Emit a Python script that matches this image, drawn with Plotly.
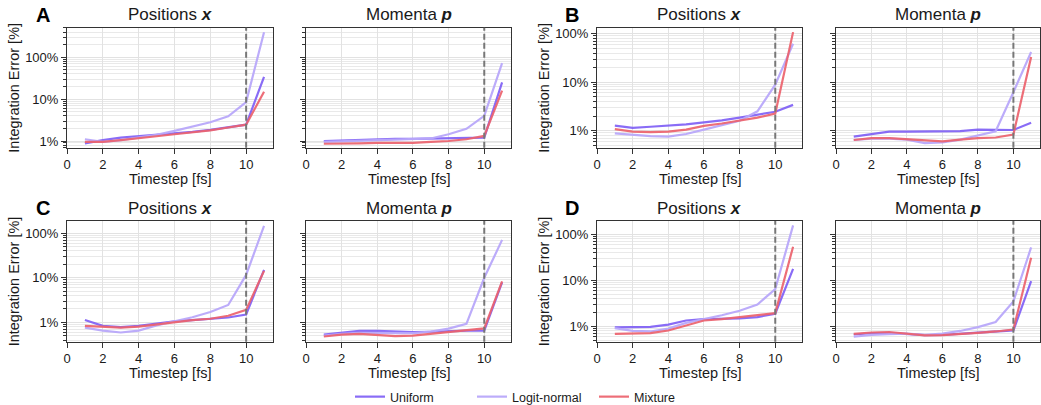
import plotly.graph_objects as go

W, H = 1041, 405

timesteps = [1, 2, 3, 4, 5, 6, 7, 8, 9, 10, 11]
cutoff_timestep = 10

series_names = ["Uniform", "Logit-normal", "Mixture"]
series_colors = ["rgba(124,92,245,0.9)", "rgba(184,168,250,0.95)", "rgba(236,98,108,0.92)"]

# Panel A
A_pos_uniform = [0.88, 1.05, 1.2, 1.3, 1.4, 1.5, 1.65, 1.85, 2.1, 2.45, 34]
A_pos_logit = [1.1, 0.95, 1.05, 1.2, 1.4, 1.75, 2.2, 2.8, 3.9, 8.5, 395]
A_pos_mixture = [0.95, 0.95, 1.05, 1.15, 1.3, 1.45, 1.6, 1.8, 2.1, 2.45, 15]
A_mom_uniform = [1.0, 1.03, 1.08, 1.1, 1.12, 1.12, 1.13, 1.15, 1.18, 1.2, 25]
A_mom_logit = [0.95, 0.97, 1.0, 1.05, 1.08, 1.1, 1.15, 1.45, 1.95, 4.0, 72]
A_mom_mixture = [0.86, 0.86, 0.88, 0.9, 0.9, 0.9, 0.95, 1.0, 1.1, 1.32, 16]

# Panel B
B_pos_uniform = [1.27, 1.14, 1.2, 1.27, 1.35, 1.48, 1.62, 1.85, 2.1, 2.45, 3.4]
B_pos_logit = [0.88, 0.81, 0.77, 0.75, 0.85, 1.05, 1.3, 1.6, 2.5, 8.9, 62]
B_pos_mixture = [1.07, 0.95, 0.93, 0.95, 1.05, 1.25, 1.4, 1.6, 1.85, 2.25, 108]
B_mom_uniform = [0.75, 0.85, 0.95, 0.95, 0.95, 0.96, 0.98, 1.05, 1.03, 1.03, 1.46]
B_mom_logit = [0.64, 0.68, 0.68, 0.65, 0.55, 0.57, 0.65, 0.8, 0.97, 6.2, 42]
B_mom_mixture = [0.64, 0.7, 0.7, 0.67, 0.64, 0.6, 0.65, 0.7, 0.72, 0.83, 33]

# Panel C
C_pos_uniform = [1.13, 0.83, 0.78, 0.83, 0.93, 1.05, 1.12, 1.2, 1.28, 1.5, 15]
C_pos_logit = [0.76, 0.65, 0.59, 0.65, 0.85, 1.05, 1.3, 1.7, 2.45, 11.6, 146]
C_pos_mixture = [0.83, 0.78, 0.76, 0.8, 0.9, 1.02, 1.12, 1.2, 1.4, 1.9, 14.3]
C_mom_uniform = [0.53, 0.58, 0.64, 0.64, 0.61, 0.6, 0.61, 0.64, 0.65, 0.65, 7.9]
C_mom_logit = [0.5, 0.55, 0.58, 0.58, 0.56, 0.57, 0.62, 0.72, 0.92, 10, 71]
C_mom_mixture = [0.48, 0.53, 0.55, 0.52, 0.49, 0.5, 0.55, 0.6, 0.65, 0.73, 8.3]

# Panel D
D_pos_uniform = [0.96, 0.98, 0.98, 1.1, 1.35, 1.45, 1.45, 1.5, 1.6, 1.9, 17.8]
D_pos_logit = [0.92, 0.8, 0.78, 0.9, 1.2, 1.45, 1.75, 2.2, 3.0, 6.5, 157]
D_pos_mixture = [0.69, 0.7, 0.72, 0.82, 1.05, 1.35, 1.45, 1.6, 1.75, 1.95, 54]
D_mom_uniform = [0.67, 0.72, 0.73, 0.7, 0.65, 0.66, 0.7, 0.73, 0.76, 0.82, 9.7]
D_mom_logit = [0.6, 0.66, 0.68, 0.7, 0.66, 0.7, 0.8, 0.97, 1.25, 3.5, 52]
D_mom_mixture = [0.69, 0.74, 0.76, 0.7, 0.64, 0.65, 0.7, 0.73, 0.78, 0.86, 31]

panel_letters = ["A", "B", "C", "D"]
panel_titles = ["Positions <b><i>x</i></b>", "Momenta <b><i>p</i></b>"]
x_ticks = [0, 2, 4, 6, 8, 10]
y_major = [1, 10, 100]
y_major_text = ["1%", "10%", "100%"]
x_title = "Timestep [fs]"
y_title = "Integration Error [%]"

panel_data = [
    [[A_pos_uniform, A_pos_logit, A_pos_mixture], [A_mom_uniform, A_mom_logit, A_mom_mixture]],
    [[B_pos_uniform, B_pos_logit, B_pos_mixture], [B_mom_uniform, B_mom_logit, B_mom_mixture]],
    [[C_pos_uniform, C_pos_logit, C_pos_mixture], [C_mom_uniform, C_mom_logit, C_mom_mixture]],
    [[D_pos_uniform, D_pos_logit, D_pos_mixture], [D_mom_uniform, D_mom_logit, D_mom_mixture]],
]

# layout geometry (pixels)
col_x = [[67, 273], [306, 511], [597, 802], [836, 1040]]
row_y = [[27.7, 147.7], [221, 341.7]]
y_ranges = [[-0.16, 2.705], [-0.353, 2.125], [-0.436, 2.276], [-0.33, 2.29]]
letter_x = [43, 572]

minor_vals = [k * d for d in [0.1, 1, 10, 100] for k in range(2, 10)]

FONT = "Liberation Sans, Arial, Helvetica, sans-serif"
TXT = "#1a1a1a"

def px_x(p):
    return p / W

def px_y(p):
    return 1 - p / H

fig = go.Figure()
annotations = []
shapes = []

ax_i = 0
for pi in range(4):
    r = pi // 2
    c0 = (pi % 2) * 2
    y0, y1 = row_y[r]
    for j in range(2):
        ax_i += 1
        xa = "x" if ax_i == 1 else f"x{ax_i}"
        ya = "y" if ax_i == 1 else f"y{ax_i}"
        xl = "xaxis" if ax_i == 1 else f"xaxis{ax_i}"
        yl = "yaxis" if ax_i == 1 else f"yaxis{ax_i}"
        cx0, cx1 = col_x[c0 + j]
        fig.update_layout(**{
            xl: dict(
                domain=[px_x(cx0), px_x(cx1)], anchor=ya, range=[0, 11.5],
                automargin=False,
                tickvals=x_ticks, ticks="outside", ticklen=5, tickcolor="#333",
                showline=True, mirror=True, linecolor="#333", linewidth=1,
                showgrid=True, gridcolor="#e2e2e2", gridwidth=1.2, zeroline=False,
                tickfont=dict(family=FONT, size=13, color=TXT),
            ),
            yl: dict(
                domain=[px_y(y1), px_y(y0)], anchor=xa, type="log",
                range=y_ranges[pi], automargin=False,
                tickvals=y_major, ticktext=y_major_text if j == 0 else [""] * 3,
                ticks="outside", ticklen=5, tickcolor="#333",
                showline=True, mirror=True, linecolor="#333", linewidth=1,
                showgrid=True, gridcolor="#e2e2e2", gridwidth=1.2, zeroline=False,
                tickfont=dict(family=FONT, size=13, color=TXT),
                minor=dict(tickvals=minor_vals, ticks="outside", ticklen=3,
                           tickcolor="#333", showgrid=True, gridcolor="#e9e9e9",
                           gridwidth=1),
            ),
        })
        for si, name in enumerate(series_names):
            fig.add_trace(go.Scatter(
                x=timesteps, y=panel_data[pi][j][si], mode="lines", name=name,
                line=dict(color=series_colors[si], width=2.2),
                xaxis=xa, yaxis=ya, legendgroup=name,
                showlegend=(ax_i == 1),
            ))
        shapes.append(dict(
            type="line", xref=xa, yref=f"{ya} domain",
            x0=cutoff_timestep, x1=cutoff_timestep, y0=0, y1=1,
            line=dict(color="#777", width=2, dash="6px,3px"),
        ))
        # panel title
        annotations.append(dict(
            text=panel_titles[j], x=px_x((cx0 + cx1) / 2), y=px_y(y0 - 13),
            xref="paper", yref="paper", showarrow=False,
            font=dict(family=FONT, size=17, color=TXT),
            xanchor="center", yanchor="middle",
        ))
        # x-axis title
        annotations.append(dict(
            text=x_title, x=px_x((cx0 + cx1) / 2), y=px_y(y1 + 31),
            xref="paper", yref="paper", showarrow=False,
            font=dict(family=FONT, size=14.5, color=TXT),
            xanchor="center", yanchor="middle",
        ))
    # panel letter
    annotations.append(dict(
        text=f"<b>{panel_letters[pi]}</b>", x=px_x(letter_x[pi % 2]), y=px_y(y0 - 13),
        xref="paper", yref="paper", showarrow=False,
        font=dict(family=FONT, size=20, color="#000"),
        xanchor="center", yanchor="middle",
    ))
    # y-axis title
    annotations.append(dict(
        text=y_title, x=px_x(col_x[c0][0] - 53), y=px_y((y0 + y1) / 2),
        xref="paper", yref="paper", showarrow=False, textangle=-90,
        font=dict(family=FONT, size=14.5, color=TXT),
        xanchor="center", yanchor="middle",
    ))

fig.update_layout(
    width=W, height=H,
    margin=dict(l=0, r=0, t=0, b=0, autoexpand=False),
    paper_bgcolor="white", plot_bgcolor="white",
    annotations=annotations, shapes=shapes,
    showlegend=True,
    legend=dict(
        orientation="h", x=px_x(350), xanchor="left", y=px_y(397), yanchor="middle",
        font=dict(family=FONT, size=12.5, color=TXT),
        itemwidth=30, tracegroupgap=0, bgcolor="rgba(0,0,0,0)",
        entrywidth=77, entrywidthmode="pixels",
    ),
)

fig.write_html(
    "out.html",
    config={"displayModeBar": False},
    post_script="document.body.style.margin='0';document.body.style.overflow='hidden';",
)
